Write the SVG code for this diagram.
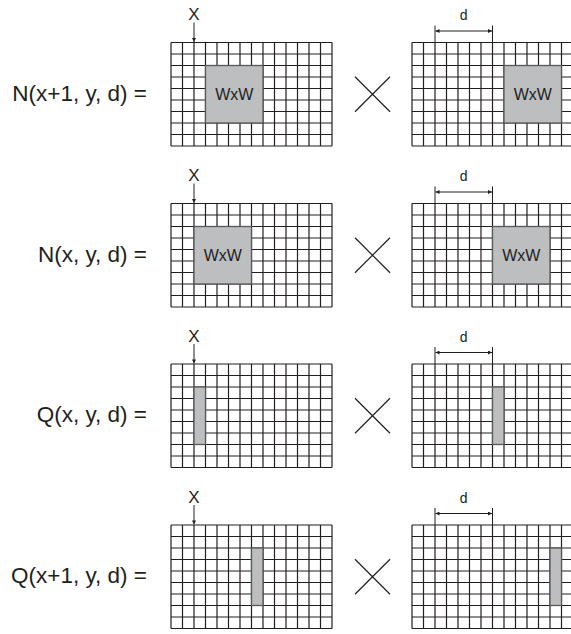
<svg xmlns="http://www.w3.org/2000/svg" xmlns:xlink="http://www.w3.org/1999/xlink" width="571" height="634" viewBox="0 0 571 634">
<style>
.grid{fill:none;stroke:#231f20;stroke-width:1.2}
.box{fill:#bcbec0;stroke:#58595b;stroke-width:1.3}
.lbl{font-family:"Liberation Sans",Arial,sans-serif;font-size:22.5px;fill:#231f20;text-anchor:end}
.ww{font-family:"Liberation Sans",Arial,sans-serif;font-size:16px;fill:#231f20;text-anchor:middle}
.mk{font-family:"Liberation Sans",Arial,sans-serif;font-size:17px;fill:#231f20;text-anchor:middle}
.dd{font-family:"Liberation Sans",Arial,sans-serif;font-size:14px;fill:#231f20;text-anchor:middle}
.ln{fill:none;stroke:#231f20;stroke-width:1}
.cross{fill:none;stroke:#231f20;stroke-width:1.2}
</style>
<defs>
<marker id="ah" viewBox="0 0 6 6" refX="6" refY="3" markerWidth="5" markerHeight="4" markerUnits="userSpaceOnUse" orient="auto-start-reverse">
<path d="M0,0 L6,3 L0,6 z" fill="#231f20"/>
</marker>
<path id="g" class="grid" d="M0,0V103.5M11.5,0V103.5M23,0V103.5M34.5,0V103.5M46,0V103.5M57.5,0V103.5M69,0V103.5M80.5,0V103.5M92,0V103.5M103.5,0V103.5M115,0V103.5M126.5,0V103.5M138,0V103.5M149.5,0V103.5M161,0V103.5M0,0H161M0,11.5H161M0,23H161M0,34.5H161M0,46H161M0,57.5H161M0,69H161M0,80.5H161M0,92H161M0,103.5H161"/>
</defs>
<rect width="571" height="634" fill="#ffffff"/>

<g id="row1">
<text class="lbl" x="147" y="100.5">N(x+1, y, d) =</text>
<g id="grid1L" transform="translate(171,42.5)">
<use xlink:href="#g" href="#g"/>
<rect class="box" x="34.5" y="23" width="57.5" height="57.5"/>
<text class="ww" x="63.25" y="57.75">WxW</text>
</g>
<g id="grid1R" transform="translate(412,42.5)">
<use xlink:href="#g" href="#g"/>
<rect class="box" x="92" y="23" width="57.5" height="57.5"/>
<text class="ww" x="120.75" y="57.75">WxW</text>
</g>
<text class="mk" x="194" y="20">X</text>
<text class="dd" x="463.75" y="20">d</text>
</g>

<g id="row2">
<text class="lbl" x="147" y="261.5">N(x, y, d) =</text>
<g id="grid2L" transform="translate(171,203.5)">
<use xlink:href="#g" href="#g"/>
<rect class="box" x="23" y="23" width="57.5" height="57.5"/>
<text class="ww" x="51.75" y="57.75">WxW</text>
</g>
<g id="grid2R" transform="translate(412,203.5)">
<use xlink:href="#g" href="#g"/>
<rect class="box" x="80.5" y="23" width="57.5" height="57.5"/>
<text class="ww" x="109.25" y="57.75">WxW</text>
</g>
<text class="mk" x="194" y="181">X</text>
<text class="dd" x="463.75" y="181">d</text>
</g>

<g id="row3">
<text class="lbl" x="147" y="422">Q(x, y, d) =</text>
<g id="grid3L" transform="translate(171,364)">
<use xlink:href="#g" href="#g"/>
<rect class="box" x="23" y="23" width="11.5" height="57.5"/>
</g>
<g id="grid3R" transform="translate(412,364)">
<use xlink:href="#g" href="#g"/>
<rect class="box" x="80.5" y="23" width="11.5" height="57.5"/>
</g>
<text class="mk" x="194" y="341.5">X</text>
<text class="dd" x="463.75" y="341.5">d</text>
</g>

<g id="row4">
<text class="lbl" x="147" y="583">Q(x+1, y, d) =</text>
<g id="grid4L" transform="translate(171,525)">
<use xlink:href="#g" href="#g"/>
<rect class="box" x="80.5" y="23" width="11.5" height="57.5"/>
</g>
<g id="grid4R" transform="translate(412,525)">
<use xlink:href="#g" href="#g"/>
<rect class="box" x="138" y="23" width="11.5" height="57.5"/>
</g>
<text class="mk" x="194" y="502.5">X</text>
<text class="dd" x="463.75" y="502.5">d</text>
</g>

<g id="connectors">
<line class="ln" x1="194" y1="22.5" x2="194" y2="42" marker-end="url(#ah)"/>
<line class="ln" x1="194" y1="183.5" x2="194" y2="203" marker-end="url(#ah)"/>
<line class="ln" x1="194" y1="344" x2="194" y2="363.5" marker-end="url(#ah)"/>
<line class="ln" x1="194" y1="505" x2="194" y2="524.5" marker-end="url(#ah)"/>

<path class="ln" d="M435,25.5V42.5M492.5,25.5V42.5"/>
<line class="ln" x1="435.5" y1="31" x2="492" y2="31" marker-start="url(#ah)" marker-end="url(#ah)"/>
<path class="ln" d="M435,186.5V203.5M492.5,186.5V203.5"/>
<line class="ln" x1="435.5" y1="192" x2="492" y2="192" marker-start="url(#ah)" marker-end="url(#ah)"/>
<path class="ln" d="M435,347V364M492.5,347V364"/>
<line class="ln" x1="435.5" y1="352.5" x2="492" y2="352.5" marker-start="url(#ah)" marker-end="url(#ah)"/>
<path class="ln" d="M435,508V525M492.5,508V525"/>
<line class="ln" x1="435.5" y1="513.5" x2="492" y2="513.5" marker-start="url(#ah)" marker-end="url(#ah)"/>

<path class="cross" d="M355,76.75L390,111.75M390,76.75L355,111.75"/>
<path class="cross" d="M355,237.75L390,272.75M390,237.75L355,272.75"/>
<path class="cross" d="M355,398.25L390,433.25M390,398.25L355,433.25"/>
<path class="cross" d="M355,559.25L390,594.25M390,559.25L355,594.25"/>
</g>
</svg>
